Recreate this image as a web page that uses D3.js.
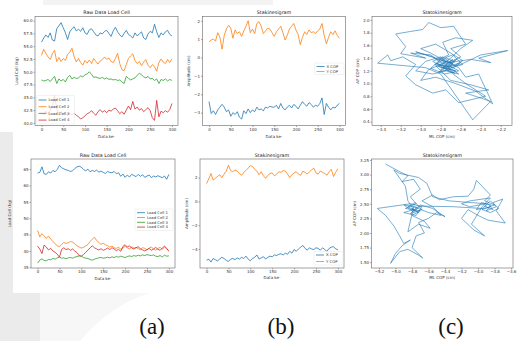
<!DOCTYPE html>
<html><head><meta charset="utf-8">
<script src="https://cdn.jsdelivr.net/npm/d3@7"></script>
<style>
html,body{margin:0;padding:0;background:#fff;}
svg{display:block;font-family:"DejaVu Sans",sans-serif;}
</style></head>
<body>
<svg id="c" width="518" height="341"></svg>
<script>
// ---------- DATA ----------
const sampleIdx = [0,5,10,15,20,25,30,35,40,45,50,55,60,65,70,75,80,85,90,95,100,105,110,115,120,125,130,135,140,145,150,155,160,165,170,175,180,185,190,195,200,205,210,215,220,225,230,235,240,245,250,255,260,265,270,275,280,285,290,295,300];

// (a) top: Raw Data Load Cell
const a1Cell1 = [55.8,56.6,57.2,56.7,57.6,56.2,56.0,58.4,59.0,59.6,58.6,57.6,56.3,57.8,58.4,58.8,58.0,58.3,57.9,58.6,57.6,57.3,58.2,58.4,57.8,57.2,57.0,57.6,57.4,57.9,58.1,57.5,56.9,58.0,58.7,57.8,57.2,56.8,57.5,58.1,57.3,57.0,56.6,57.6,57.0,57.4,57.8,56.6,56.3,57.4,57.9,57.6,59.3,57.8,56.7,57.6,57.2,57.8,58.1,57.3,57.0];
const a1Cell2 = [53.2,54.4,53.6,52.9,52.4,53.5,54.2,52.0,52.8,52.0,52.6,52.2,53.4,53.8,54.6,53.0,51.9,52.6,51.8,51.3,52.2,51.7,52.3,51.6,52.6,52.0,51.5,52.1,52.4,52.9,52.4,52.7,52.0,51.8,52.6,53.6,51.6,50.4,50.2,51.4,52.6,53.1,53.5,52.2,51.6,52.0,51.2,51.9,52.4,51.3,50.8,51.4,51.0,50.1,51.8,52.5,51.9,51.6,52.4,51.8,52.5];
const a1Cell3 = [48.4,48.2,48.3,48.5,48.1,48.6,49.1,47.7,48.6,48.2,48.5,48.0,48.9,49.3,48.6,48.9,48.7,48.8,49.2,49.0,49.4,49.6,50.0,49.5,48.9,49.0,48.8,48.7,48.9,48.6,48.8,48.5,48.6,48.4,48.5,48.3,48.4,48.0,47.7,49.1,48.7,48.4,48.6,48.8,49.3,49.7,49.4,49.0,48.8,49.1,48.6,48.7,48.3,48.6,47.7,48.5,48.3,48.6,48.2,48.5,48.3];
const a1Cell4 = [42.0,41.6,42.3,41.8,42.5,43.2,45.3,42.8,41.5,42.2,41.6,42.0,41.4,41.9,41.6,41.9,41.5,41.2,40.8,41.0,41.4,41.8,42.0,42.4,41.9,41.5,42.2,42.6,42.1,42.4,42.0,42.5,42.3,42.7,42.9,42.4,41.8,42.2,41.7,42.5,43.3,42.6,44.2,42.7,43.1,42.5,42.8,42.2,42.6,43.0,42.4,41.0,40.5,44.4,41.2,42.3,42.0,42.4,42.1,42.6,43.8];

// (a) bottom
const a2Cell1 = [63.8,64.0,65.7,63.6,63.4,64.2,63.8,64.6,64.2,64.9,66.2,65.4,65.1,64.8,64.6,64.3,64.5,65.2,65.7,65.9,65.6,64.9,64.5,65.0,64.2,64.6,64.3,64.7,64.1,64.4,64.0,63.7,64.3,64.0,63.9,64.3,63.6,63.9,62.8,63.5,62.5,63.2,62.6,63.4,63.1,62.7,63.4,62.8,63.3,62.5,62.9,63.2,62.4,62.9,62.6,63.0,62.7,62.4,62.9,61.9,63.4];
const a2Cell2 = [46.3,44.3,45.3,44.6,43.8,44.6,43.6,43.0,42.2,41.6,41.3,42.0,42.6,42.3,42.5,42.9,42.7,42.2,41.6,41.2,40.9,41.1,41.5,42.0,42.9,43.6,44.2,43.2,42.6,42.0,42.4,41.9,41.6,41.2,41.5,41.0,40.8,41.2,40.5,40.9,41.4,41.0,40.6,41.3,40.9,41.1,40.7,40.4,41.0,40.8,40.3,40.9,41.2,40.6,40.2,40.8,41.1,40.5,41.2,40.6,40.1];
const a2Cell3 = [36.3,37.2,37.6,37.1,37.0,37.4,37.3,37.7,37.5,37.9,38.1,37.8,37.9,37.6,37.9,38.0,37.8,38.1,38.3,38.5,38.4,38.0,37.8,37.7,37.4,37.2,37.5,37.7,37.9,38.0,37.8,37.9,38.1,37.9,38.2,38.0,38.3,38.1,38.4,38.2,38.0,38.3,38.5,38.3,38.6,38.4,38.7,38.5,38.8,38.6,38.9,38.7,38.6,38.8,38.4,38.3,38.6,38.2,38.7,38.4,38.5];
const a2Cell4 = [41.5,40.6,39.2,41.8,41.2,40.3,40.8,40.0,39.6,39.0,38.1,40.5,41.0,40.4,40.7,40.2,40.6,40.0,39.5,38.6,38.4,38.9,39.6,40.3,40.9,41.6,41.0,40.6,40.3,40.7,40.2,40.5,40.9,40.4,41.0,40.6,40.1,40.5,39.9,41.4,41.9,41.2,41.6,40.9,40.6,41.0,41.3,40.7,40.3,40.0,40.4,40.8,40.2,40.6,41.1,40.5,40.2,40.9,41.5,40.8,39.9];

// (b) top: Stakinesigram
const b1XCop = [-2.4,-3.05,-2.9,-3.1,-2.85,-2.7,-2.55,-2.7,-2.95,-2.85,-3.2,-3.0,-3.1,-2.95,-3.25,-3.35,-2.9,-3.05,-2.8,-3.0,-2.85,-2.95,-2.7,-2.85,-2.8,-2.9,-2.7,-2.75,-2.65,-2.7,-2.7,-2.6,-2.8,-2.5,-2.75,-2.85,-2.7,-2.6,-2.75,-2.55,-2.65,-2.8,-2.6,-2.4,-2.55,-2.65,-2.45,-2.55,-2.7,-2.6,-2.65,-2.5,-2.2,-3.1,-2.5,-2.7,-2.85,-2.7,-2.75,-2.6,-2.5];
const b1YCop = [0.85,0.95,1.0,0.9,1.35,1.1,0.45,1.2,1.55,1.75,1.6,1.05,1.5,1.3,1.4,1.15,1.45,1.7,2.0,1.35,1.55,1.3,1.85,1.95,1.7,1.3,1.45,1.6,1.55,1.35,1.15,1.4,1.55,1.7,1.35,0.95,1.2,1.55,1.7,1.85,1.5,1.25,0.7,1.1,1.4,1.25,1.5,1.35,1.4,1.3,1.45,1.55,1.85,1.2,0.75,1.1,1.4,1.25,1.45,1.2,1.05];

// (b) bottom
const b2XCop = [-4.95,-4.85,-5.1,-4.8,-4.9,-5.0,-4.85,-4.7,-4.8,-4.95,-5.05,-4.85,-4.8,-4.9,-4.75,-4.85,-4.7,-4.8,-4.6,-4.85,-5.0,-4.8,-4.7,-4.5,-4.85,-4.75,-4.65,-4.85,-4.7,-4.6,-4.65,-4.5,-4.55,-4.45,-4.4,-4.5,-4.35,-4.45,-4.2,-4.35,-4.05,-4.2,-4.0,-3.85,-3.7,-3.95,-4.1,-3.9,-4.0,-4.05,-3.9,-3.95,-4.1,-3.9,-4.05,-4.2,-3.95,-3.85,-3.8,-4.0,-4.05];
const b2YCop = [1.5,1.9,2.35,1.8,1.95,2.1,2.25,2.0,2.3,2.55,3.05,2.6,2.5,2.65,2.55,2.35,2.2,2.45,2.6,2.8,3.0,2.95,2.7,2.55,2.25,2.5,2.15,1.95,2.2,2.35,2.4,2.15,2.3,2.5,2.45,2.6,2.55,2.3,2.0,2.25,2.4,2.5,2.3,2.2,2.55,2.45,2.3,2.5,2.65,2.8,2.4,2.3,2.55,2.45,2.35,2.2,2.5,2.7,2.1,2.45,2.75];

// (c) top: Statokinesigram (ML, AP)
const c1ML = [-2.75,-2.68,-2.80,-2.62,-2.90,-3.10,-2.95,-3.20,-3.15,-3.25,-3.10,-2.98,-2.92,-2.80,-2.67,-2.62,-2.55,-2.70,-2.60,-2.72,-2.50,-2.30,-2.42,-2.13,-2.40,-2.60,-2.78,-2.65,-2.85,-2.70,-2.50,-2.32,-2.55,-2.30,-2.48,-2.80,-2.95,-3.43,-3.33,-3.30,-3.18,-3.05,-3.15,-3.05,-2.88,-2.75,-2.62,-2.35,-2.55,-2.70,-2.88,-2.78,-2.66,-2.58,-2.72,-2.85,-3.00,-2.90,-2.75,-2.62,-2.55,-2.42,-2.28,-2.45,-2.65,-2.85,-3.00,-2.92,-2.80,-2.70,-2.60,-2.48,-2.65,-2.78,-2.72,-2.82,-2.68,-2.75,-2.88,-3.05,-2.95,-2.80,-2.70,-2.60,-2.68,-2.73,
  -2.78,-2.70,-2.82,-2.66,-2.74,-2.86,-2.70,-2.62,-2.76,-2.90,-2.80,-2.68,-2.58,-2.72,-2.84,-2.76,-2.64,-2.70,-2.95,-3.05,-2.88,-2.78,-2.66,-2.74,-2.82,-2.72];
const c1AP = [1.30,1.38,1.22,1.15,1.45,1.48,1.40,1.47,1.58,1.78,1.82,1.85,1.96,1.88,1.90,1.78,1.62,1.55,1.42,1.33,1.38,1.33,1.40,1.52,1.45,1.30,1.25,1.20,1.28,1.05,0.98,0.90,0.85,0.72,0.43,1.15,1.25,1.32,1.45,1.36,1.42,1.30,1.12,0.98,0.85,0.90,0.70,0.80,1.00,1.18,1.35,1.42,1.28,1.36,1.50,1.62,1.55,1.48,1.35,1.25,1.10,1.15,0.68,0.88,1.00,1.10,1.05,1.22,1.30,1.40,1.55,1.68,1.72,1.65,1.45,1.38,1.32,1.20,1.15,1.20,1.35,1.42,1.28,1.33,1.24,1.30,
  1.35,1.22,1.18,1.34,1.40,1.30,1.27,1.20,1.15,1.24,1.38,1.45,1.30,1.24,1.32,1.26,1.38,1.32,1.45,1.50,1.42,1.30,1.16,1.22,1.27,1.36];

// (c) bottom
const c2ML = [-5.12,-4.95,-4.85,-4.92,-4.78,-4.70,-4.82,-4.75,-4.88,-4.70,-4.80,-4.65,-4.58,-4.72,-4.85,-4.78,-4.60,-4.45,-4.55,-4.68,-4.55,-4.47,-4.30,-4.12,-4.05,-4.02,-3.95,-3.85,-3.92,-3.80,-3.95,-3.85,-3.75,-3.82,-3.70,-3.78,-3.67,-3.88,-4.00,-4.12,-4.20,-4.05,-3.92,-4.08,-3.95,-3.85,-4.10,-4.20,-4.10,-3.90,-4.35,-4.55,-4.62,-4.72,-4.95,-5.02,-4.88,-4.85,-4.78,-4.90,-4.75,-4.68,-4.82,-5.22,-5.12,-5.02,-4.95,-4.90,-4.82,-4.92,-5.00,-5.06,-4.95,-4.85,-4.72,-4.67,-4.80,-4.75,-4.65,-4.72,-4.60,-4.50,-4.40,-4.55,-4.70,-4.78,
  -4.80,-4.72,-4.85,-4.76,-4.68,-4.82,-4.74,-4.90,-4.78,-4.70,-4.30,-3.95,-3.88,-3.82,-3.92,-3.85,-3.78,-3.90,-3.84,-3.96,-4.02,-3.86];
const c2AP = [3.18,3.05,2.98,2.88,2.92,2.75,2.62,2.50,2.42,2.38,2.30,2.20,2.08,2.15,2.02,2.45,2.35,2.30,2.45,2.55,2.65,2.57,2.62,2.63,2.75,2.90,2.80,2.65,2.55,2.48,2.40,2.35,2.42,2.52,2.58,2.38,2.17,2.22,2.30,2.40,2.25,2.05,1.95,2.15,2.45,2.60,2.55,2.50,2.45,2.50,2.55,2.62,2.85,2.95,3.02,3.08,2.80,2.55,2.40,2.35,2.30,2.45,2.50,2.42,2.30,2.12,1.95,1.82,1.88,1.78,1.65,1.48,1.68,1.72,1.62,1.57,1.75,1.95,2.00,2.18,2.25,2.35,2.28,2.42,2.48,2.38,
  2.42,2.35,2.45,2.52,2.40,2.33,2.44,2.48,2.36,2.46,2.45,2.42,2.50,2.40,2.46,2.55,2.45,2.38,2.48,2.52,2.40,2.44];

// tick labels
const tsTicks = [0,50,100,150,200,250,300];
const a1YTicks = [40.0,42.5,45.0,47.5,50.0,52.5,55.0,57.5,60.0];
const a2YTicks = [35,40,45,50,55,60,65];
const b1YTicks = [-3,-2,-1,0,1,2];
const b2YTicks = [-4,-2,0,2];
const c1XTicks = [-3.4,-3.2,-3.0,-2.8,-2.6,-2.4,-2.2];
const c1YTicks = [0.4,0.6,0.8,1.0,1.2,1.4,1.6,1.8,2.0];
const c2XTicks = [-5.2,-5.0,-4.8,-4.6,-4.4,-4.2,-4.0,-3.8,-3.6];
const c2YTicks = [1.50,1.75,2.00,2.25,2.50,2.75,3.00,3.25];
const loadCellNames = ["Load Cell 1","Load Cell 2","Load Cell 3","Load Cell 4"];
const copNames = ["X COP","Y COP"];
const tab10 = ["#1f77b4","#ff7f0e","#2ca02c","#d62728"];

// ---------- DRAW ----------
const svg = d3.select("#c");
svg.append("rect").attr("x",0).attr("y",0).attr("width",518).attr("height",341).attr("fill","#fff");
svg.append("rect").attr("x",43).attr("y",0).attr("width",230).attr("height",5).attr("fill","#f3f3f3");
svg.append("rect").attr("x",0).attr("y",132).attr("width",13).attr("height",209).attr("fill","#ebebeb");
svg.append("rect").attr("x",0).attr("y",293).attr("width",40).attr("height",48).attr("fill","#ebebeb");
svg.append("path").attr("d","M40,293 L150,293 Q110,305 80,341 L40,341 Z").attr("fill","#f7f7f7");

let clipId = 0;
function panel(cfg){
  const g = svg.append("g");
  const x = d3.scaleLinear().domain(cfg.xd).range([cfg.l, cfg.r]);
  const y = d3.scaleLinear().domain(cfg.yd).range([cfg.b, cfg.t]);
  const id = "clip"+(clipId++);
  g.append("clipPath").attr("id",id).append("rect")
    .attr("x",cfg.l).attr("y",cfg.t).attr("width",cfg.r-cfg.l).attr("height",cfg.b-cfg.t);
  const lineGen = d3.line().x(d=>x(d[0])).y(d=>y(d[1]));
  const lg = g.append("g").attr("clip-path","url(#"+id+")");
  cfg.series.forEach(s=>{
    const pts = s.xs.map((v,i)=>[v, s.ys[i]]);
    lg.append("path").attr("d",lineGen(pts)).attr("fill","none")
      .attr("stroke",s.color).attr("stroke-width",s.w||0.8).attr("stroke-linejoin","round");
  });
  const xa = d3.axisBottom(x).tickValues(cfg.xt).tickSize(1.5).tickPadding(1).tickFormat(cfg.xf);
  const ya = d3.axisLeft(y).tickValues(cfg.yt).tickSize(1.5).tickPadding(1).tickFormat(cfg.yf);
  const gx = g.append("g").attr("transform","translate(0,"+cfg.b+")").call(xa);
  const gy = g.append("g").attr("transform","translate("+cfg.l+",0)").call(ya);
  [gx,gy].forEach(a=>{
    a.select(".domain").remove();
    a.selectAll("line").attr("stroke","#555").attr("stroke-width",0.5);
    a.selectAll("text").attr("font-size",4).attr("fill","#333").style("font-family","'DejaVu Sans', sans-serif");
  });
  g.append("rect").attr("x",cfg.l).attr("y",cfg.t).attr("width",cfg.r-cfg.l).attr("height",cfg.b-cfg.t)
    .attr("fill","none").attr("stroke","#666").attr("stroke-width",0.6);
  g.append("text").attr("x",(cfg.l+cfg.r)/2).attr("y",cfg.t-2.5).attr("text-anchor","middle")
    .attr("font-size",4.8).attr("fill","#222").text(cfg.title);
  g.append("text").attr("x",(cfg.l+cfg.r)/2).attr("y",cfg.xly).attr("text-anchor","middle")
    .attr("font-size",4).attr("fill","#333").text(cfg.xlabel);
  g.append("text").attr("transform","translate("+cfg.ylx+","+((cfg.t+cfg.b)/2)+") rotate(-90)")
    .attr("text-anchor","middle").attr("font-size",4).attr("fill","#333").text(cfg.ylabel);
  if(cfg.legend){
    const L = cfg.legend;
    const lgG = g.append("g");
    lgG.append("rect").attr("x",L.x).attr("y",L.y).attr("width",L.w).attr("height",L.h)
      .attr("rx",1).attr("fill","#fff").attr("fill-opacity",0.8).attr("stroke","#ddd").attr("stroke-width",0.4);
    L.names.forEach((n,i)=>{
      const yy = L.y + L.first + i*L.step;
      lgG.append("line").attr("x1",L.x+2).attr("x2",L.x+10).attr("y1",yy).attr("y2",yy)
        .attr("stroke",L.colors[i]).attr("stroke-width",0.8);
      lgG.append("text").attr("x",L.x+12).attr("y",yy+1.3).attr("font-size",3.8).attr("fill","#333").text(n);
    });
  }
}

const f1 = d3.format(".1f"), f2 = d3.format(".2f"), fi = d3.format("d");

panel({l:35,r:178,t:16.5,b:125.5,xd:[-15,314],yd:[39.5,60.8],xt:tsTicks,yt:a1YTicks,xf:fi,yf:f1,
  title:"Raw Data Load Cell",xlabel:"Data ke-",ylabel:"Load Cell (kg)",xly:138,ylx:18,
  series:[a1Cell1,a1Cell2,a1Cell3,a1Cell4].map((d,i)=>({xs:sampleIdx,ys:d,color:tab10[i]})),
  legend:{x:36.5,y:95.5,w:38,h:28.5,first:4.5,step:6.7,names:loadCellNames,colors:tab10}});

panel({l:31,r:175,t:159,b:268,xd:[-15,314],yd:[34.8,68.1],xt:tsTicks,yt:a2YTicks,xf:fi,yf:fi,
  title:"Raw Data Load Cell",xlabel:"Data ke-",ylabel:"Load Cell (kg)",xly:279.5,ylx:11,
  series:[a2Cell1,a2Cell2,a2Cell3,a2Cell4].map((d,i)=>({xs:sampleIdx,ys:d,color:tab10[i]})),
  legend:{x:135,y:209,w:38,h:21.5,first:3.7,step:4.8,names:loadCellNames,colors:tab10}});

panel({l:202.5,r:345.5,t:16.5,b:125.5,xd:[-15,314],yd:[-3.70,2.23],xt:tsTicks,yt:b1YTicks,xf:fi,yf:fi,
  title:"Stakinesigram",xlabel:"Data ke-",ylabel:"Amplitude (cm)",xly:137.5,ylx:190,
  series:[{xs:sampleIdx,ys:b1XCop,color:tab10[0]},{xs:sampleIdx,ys:b1YCop,color:tab10[1]}],
  legend:{x:314.5,y:63,w:29.5,h:11.5,first:3.5,step:5,names:copNames,colors:tab10}});

panel({l:200,r:344,t:159,b:268,xd:[-15,314],yd:[-5.6,3.57],xt:tsTicks,yt:b2YTicks,xf:fi,yf:fi,
  title:"Stakinesigram",xlabel:"Data ke-",ylabel:"Amplitude (cm)",xly:279,ylx:187.5,
  series:[{xs:sampleIdx,ys:b2XCop,color:tab10[0]},{xs:sampleIdx,ys:b2YCop,color:tab10[1]}],
  legend:{x:314,y:251.5,w:29,h:13.5,first:3.5,step:6.5,names:copNames,colors:tab10}});

panel({l:372,r:512,t:16.5,b:125.5,xd:[-3.487,-2.087],yd:[0.34,2.055],xt:c1XTicks,yt:c1YTicks,xf:f1,yf:f1,
  title:"Statokinesigram",xlabel:"ML COP (cm)",ylabel:"AP COP (cm)",xly:138,ylx:358.5,
  series:[{xs:c1ML,ys:c1AP,color:tab10[0],w:0.6}]});

panel({l:371.5,r:513,t:159,b:268,xd:[-5.291,-3.576],yd:[1.40,3.267],xt:c2XTicks,yt:c2YTicks,xf:f1,yf:f2,
  title:"Statokinesigram",xlabel:"ML COP (cm)",ylabel:"AP COP (cm)",xly:279,ylx:355.5,
  series:[{xs:c2ML,ys:c2AP,color:tab10[0],w:0.6}]});

// subfigure labels
[["(a)",152],["(b)",281],["(c)",451]].forEach(([t,cx])=>{
  svg.append("text").attr("x",cx).attr("y",334).attr("text-anchor","middle")
    .style("font-family","'Liberation Serif', 'DejaVu Serif', serif").style("font-size","23px")
    .attr("fill","#111").text(t);
});
</script>
</body></html>
